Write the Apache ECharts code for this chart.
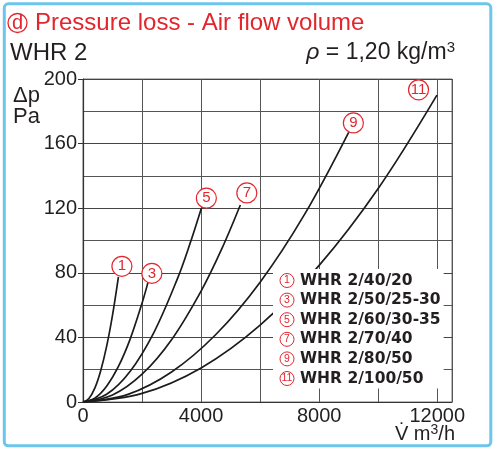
<!DOCTYPE html>
<html><head><meta charset="utf-8">
<script src="https://cdn.jsdelivr.net/npm/echarts@6/dist/echarts.min.js"></script>
<style>html,body{margin:0;padding:0;background:#fff}#c{width:500px;height:456px}</style>
</head><body><div id="c"></div>
<script>
// ---- data ----
const seriesNames = ['WHR 2/40/20', 'WHR 2/50/25-30', 'WHR 2/60/30-35', 'WHR 2/70/40', 'WHR 2/80/50', 'WHR 2/100/50'];
const seriesMarks = ['1', '3', '5', '7', '9', '11'];
const flow1 = [0, 200, 400, 600, 800, 1000, 1200];
const dp1 = [0, 2.2, 8.6, 19.4, 34.4, 53.8, 77.5];
const flow3 = [0, 400, 800, 1200, 1600, 2000, 2215];
const dp3 = [0, 2.4, 9.8, 22, 39.1, 61.2, 75];
const flow5 = [0, 800, 1600, 2400, 3200, 3600, 4010];
const dp5 = [0, 4.8, 19.1, 43, 76.4, 96.7, 120];
const flow7 = [0, 1000, 2000, 3000, 4000, 4700, 5330];
const dp7 = [0, 4.3, 17.2, 38.6, 68.7, 94.8, 122];
const flow9 = [0, 1500, 3000, 4500, 6000, 7500, 9000];
const dp9 = [0, 4.6, 18.6, 41.8, 74.2, 116, 167];
const flow11 = [0, 2000, 4000, 6000, 8000, 10000, 11990];
const dp11 = [0, 5.3, 21.1, 47.6, 84.6, 132.2, 190];
const xTickLabels = [0, 4000, 8000, 12000];
const yTickLabels = [0, 40, 80, 120, 160, 200];

const flows = [flow1, flow3, flow5, flow7, flow9, flow11];
const dps = [dp1, dp3, dp5, dp7, dp9, dp11];

// ---- style ----
const RED = '#e3262e';
const INK = '#231f20';
const FONT = '"Liberation Sans", Arial, sans-serif';
const markOffsets = [[3.5, -10.5], [3.5, -7.5], [5, -10], [6.5, -12], [4.7, -9.4], [-18.4, -5.3]];

const chart = echarts.init(document.getElementById('c'), null, {renderer: 'canvas'});

const series = flows.map((fl, i) => {
  const dp = dps[i];
  const last = fl.length - 1;
  return {
    name: seriesNames[i],
    type: 'line',
    data: fl.map((v, j) => [v, dp[j]]),
    smooth: 0.35,
    showSymbol: false,
    symbol: 'none',
    lineStyle: {color: '#1c1c1c', width: 1.7},
    itemStyle: {color: '#1c1c1c'},
    animation: false,
    silent: true,
    markPoint: {
      silent: true,
      animation: false,
      symbol: 'circle',
      symbolSize: 20,
      symbolOffset: markOffsets[i],
      itemStyle: {color: '#fff', borderColor: RED, borderWidth: 1.2},
      label: {show: true, position: 'inside', formatter: seriesMarks[i], color: RED, fontSize: 15, fontFamily: FONT},
      data: [{coord: [fl[last], dp[last]]}]
    }
  };
});

chart.setOption({
  backgroundColor: '#fff',
  animation: false,
  title: {
    left: 8, top: 11, padding: 0,
    text: '{c|d}{t|Pressure loss - Air flow volume}',
    textStyle: {
      fontWeight: 'normal',
      rich: {
        c: {color: RED, fontSize: 20, fontWeight: 'normal', fontFamily: FONT, width: 19, height: 19, lineHeight: 19, align: 'center',
            borderColor: RED, borderWidth: 1.3, borderRadius: 11},
        t: {color: RED, fontSize: 24, fontWeight: 'normal', fontFamily: FONT, padding: [0, 0, 0, 8]}
      }
    }
  },
  grid: {left: 83, right: 48, top: 79, bottom: 54, show: true, borderColor: '#777', borderWidth: 1},
  xAxis: {
    type: 'value', min: 0, max: 12500, interval: 2000,
    axisLine: {show: true, lineStyle: {color: '#333', width: 1.2}},
    axisTick: {show: false},
    axisLabel: {
      color: INK, fontSize: 20, fontFamily: FONT, margin: 4, showMaxLabel: false,
      formatter: v => (xTickLabels.indexOf(v) >= 0 ? String(v) : '')
    },
    splitLine: {show: true, lineStyle: {color: '#555', width: 1}}
  },
  yAxis: {
    type: 'value', min: 0, max: 200, interval: 40,
    axisLine: {show: true, lineStyle: {color: '#333', width: 1.2}},
    axisTick: {show: true, length: 5, lineStyle: {color: '#333'}},
    axisLabel: {
      color: INK, fontSize: 20, fontFamily: FONT, margin: 6,
      formatter: v => (yTickLabels.indexOf(v) >= 0 ? String(v) : '')
    },
    splitLine: {show: true, lineStyle: {color: '#444', width: 1}},
    minorTick: {show: false, splitNumber: 2},
    minorSplitLine: {show: true, lineStyle: {color: '#555', width: 1}}
  },
  legend: {
    orient: 'vertical', left: 273, top: 269,
    padding: [2, 3, 2, 2],
    backgroundColor: '#fff',
    selectedMode: false,
    icon: 'none', itemWidth: 0, itemHeight: 19, itemGap: 2.1,
    data: seriesNames,
    formatter: name => '{c|' + seriesMarks[seriesNames.indexOf(name)] + '}{t|' + name + '}',
    textStyle: {
      rich: {
        c: {color: RED, fontSize: 10.5, fontFamily: FONT, width: 14, height: 14, lineHeight: 14, align: 'center',
            borderColor: RED, borderWidth: 1, borderRadius: 8},
        t: {color: INK, fontSize: 15.5, fontWeight: 'bold', fontFamily: '"DejaVu Sans", sans-serif', padding: [0, 0, 0, 6]}
      }
    }
  },
  graphic: [
    {type: 'rect', silent: true, shape: {x: 4.3, y: 3.8, width: 486.5, height: 442, r: 4},
     style: {fill: 'none', stroke: '#6cc6ec', lineWidth: 3}},
    {type: 'text', silent: true, style: {text: 'WHR 2', x: 10, y: 53, fill: INK, fontSize: 24, fontFamily: FONT, verticalAlign: 'middle'}},
    {type: 'text', silent: true, style: {text: '{i|ρ}{n| = 1,20 kg/m}{s|3}', x: 455, y: 53, fill: INK, fontSize: 23, fontFamily: FONT, align: 'right', verticalAlign: 'middle',
      rich: {
        i: {fontStyle: 'italic', fontSize: 23, fontFamily: FONT, fill: INK, lineHeight: 26},
        n: {fontSize: 23, fontFamily: FONT, fill: INK, lineHeight: 26},
        s: {fontSize: 15, fontFamily: FONT, fill: INK, verticalAlign: 'top', lineHeight: 14}
      }}},
    {type: 'text', silent: true, style: {text: 'Δp', x: 13, y: 96, fill: INK, fontSize: 22, fontFamily: FONT, verticalAlign: 'middle'}},
    {type: 'text', silent: true, style: {text: 'Pa', x: 13, y: 117, fill: INK, fontSize: 22, fontFamily: FONT, verticalAlign: 'middle'}},
    {type: 'text', silent: true, style: {text: '{n|V̇ m}{s|3}{n|/h}', x: 455, y: 434, fill: INK, fontSize: 20, fontFamily: FONT, align: 'right', verticalAlign: 'middle',
      rich: {
        n: {fontSize: 20, fontFamily: FONT, fill: INK, lineHeight: 22},
        s: {fontSize: 14, fontFamily: FONT, fill: INK, verticalAlign: 'top', lineHeight: 12}
      }}}
  ],
  series: series
});
</script>
</body></html>
